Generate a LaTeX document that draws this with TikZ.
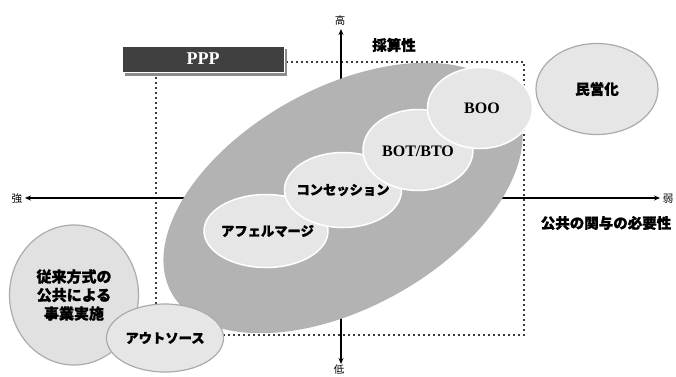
\documentclass[tikz,border=0pt]{standalone}
\usepackage{fontspec}
\setmainfont{Liberation Serif}
\newfontfamily\jp{Noto Sans CJK JP}[BoldFeatures={FakeBold=1.2}]
\newfontfamily\jpax{Noto Sans CJK JP}
\usetikzlibrary{shapes.geometric,arrows.meta}
\definecolor{bigGray}{HTML}{B3B3B3}
\definecolor{lightFill}{HTML}{E6E6E6}
\definecolor{ringGray}{HTML}{ABABAB}
\definecolor{dotGray}{HTML}{3A3A3A}
\definecolor{boxDark}{HTML}{404040}
\definecolor{shadowGray}{HTML}{8C8C8C}
\tikzset{
  px/.style={x=1pt,y=-1pt},
  axisline/.style={line width=1.2pt,-{Stealth[length=6pt,width=5pt]}},
  dotline/.style={dotGray,line width=2pt,dash pattern=on 2pt off 3pt},
  inner/.style={ellipse,fill=lightFill,draw=white,line width=1.5pt,inner sep=0pt},
  outer/.style={ellipse,fill=lightFill,draw=ringGray,line width=1.2pt,inner sep=0pt},
  jplab/.style={font=\jp\bfseries\fontsize{14.5}{18}\selectfont,inner sep=0pt},
  kanalab/.style={font=\jp\bfseries\fontsize{13.3}{16}\selectfont,inner sep=0pt},
  latlab/.style={font=\bfseries\fontsize{16}{18}\selectfont,inner sep=0pt},
  axlab/.style={font=\jpax\fontsize{10.5}{12}\selectfont,inner sep=0pt},
}
\begin{document}
\begin{tikzpicture}[px]
\useasboundingbox (0,0) rectangle (676,376);
% dotted PPP frame
\coordinate (f1) at (156,62);
\coordinate (f2) at (524,335);
\draw[dotline] (f1) rectangle (f2);
% axes
\coordinate (org) at (341,198);
\coordinate (ytop) at (341,29);
\coordinate (ybot) at (341,364);
\coordinate (xl) at (25,198);
\coordinate (xr) at (660,198);
\draw[axisline] (org) -- (ytop);
\draw[axisline] (org) -- (ybot);
\draw[axisline] (org) -- (xl);
\draw[axisline] (org) -- (xr);
\node[axlab] (hi) at (340,20) {高};
\node[axlab] (lo) at (339,370) {低};
\node[axlab] (strong) at (17,199) {強};
\node[axlab] (weak) at (668,199) {弱};
% big ellipse
\node[ellipse,fill=bigGray,rotate=29,minimum width=392pt,minimum height=220pt,inner sep=0pt] (big) at (343,198) {};
% inner ellipses
\node[inner,minimum width=124pt,minimum height=73pt] (afe) at (266,231) {};
\node[inner,minimum width=117pt,minimum height=75pt] (con) at (343,190) {};
\node[inner,minimum width=110pt,minimum height=81pt] (bot) at (418,150) {};
\node[inner,minimum width=105pt,minimum height=81pt] (boo) at (480,108) {};
\node[kanalab] at (afe.center) [xshift=1.5pt] {アフェルマージ};
\node[kanalab] at (con.center) {コンセッション};
\node[latlab] at (bot.center) [yshift=-1pt] {BOT/BTO};
\node[latlab] at (boo.center) [xshift=2pt] {BOO};
% outside ellipses
\node[outer,minimum width=122pt,minimum height=91pt] (min) at (597,89) {};
\node[jplab] at (min.center) {民営化};
\node[outer,minimum width=129pt,minimum height=140pt,fill=lightFill!95!gray] (trad) at (74,295) {};
\node[jplab,align=center,font=\jp\bfseries\fontsize{15}{18.5}\selectfont] at (trad.center) {従来方式の\\公共による\\事業実施};
\node[outer,minimum width=117pt,minimum height=68pt] (out) at (165,338) {};
\node[kanalab] at (out.center) {アウトソース};
% PPP box
\fill[shadowGray] (125,49) rectangle (287,76);
\node[draw=white,line width=0.8pt,fill=boxDark,minimum width=162pt,minimum height=26pt,inner sep=0pt,text=white,font=\bfseries\fontsize{18}{20}\selectfont] (ppp) at (203,59) {PPP};
% axis titles
\node[jplab] (saisan) at (394,45) {採算性};
\node[jplab] (kouky) at (606,223) {公共の関与の必要性};
\end{tikzpicture}
\end{document}
